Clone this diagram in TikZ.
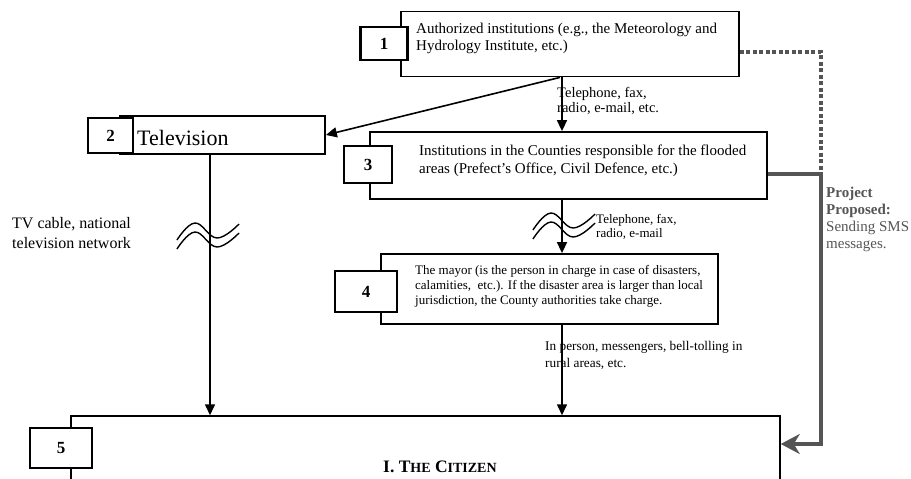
\documentclass[tikz,border=0pt]{standalone}
\usepackage{fontspec}
\setmainfont{Liberation Serif}
\usetikzlibrary{arrows.meta}
\definecolor{smsgray}{RGB}{85,85,85}

\begin{document}
\begin{tikzpicture}[x=1pt,y=-1pt,>={Triangle[length=11pt,width=10pt]}]
    \tikzstyle{block}=[draw,line width=1.8pt,inner sep=0pt]
    \tikzstyle{number}=[draw,fill=white,line width=2.4pt,inner sep=0pt,font=\fontsize{17}{17}\selectfont\bfseries]
    \tikzstyle{annot}=[inner sep=0pt,anchor=base west,align=left]
    \tikzstyle{link}=[->,line width=1.6pt]
    \tikzstyle{wave}=[line width=1.4pt]
    \tikzstyle{sms}=[line width=4pt,draw=smsgray]

    \path[use as bounding box,clip] (0,0) rectangle (911,479);

    % Draw the main blocks
    \node[block,minimum width=338,minimum height=65] (b1) at (570,44) {};
    \node[block,minimum width=205,minimum height=38] (b2) at (222.5,135) {};
    \node[block,minimum width=397,minimum height=67] (b3) at (568.5,165.5) {};
    \node[block,minimum width=337,minimum height=70] (b4) at (549.5,289) {};
    \node[block,line width=1.5pt,minimum width=709,minimum height=124] (b5) at (425.5,478) {};

    % Draw the numbered tabs
    \foreach \name/\x/\y/\w/\h in {1/384/43.5/47/33, 2/110.5/135.5/45/35, 3/368/164.5/48/37,
                                    4/366/291.5/62/41, 5/61/448/62/40}
        \node[number,minimum width=\w,minimum height=\h] (n-\name) at (\x,\y) {\name};

    % Texts of the blocks (placed at the baseline of the last line)
    \node[annot,font=\fontsize{15}{17}\selectfont] (t1) at (416,50)
        {Authorized institutions (e.g., the Meteorology and\\Hydrology Institute, etc.)};
    \node[annot,font=\fontsize{22}{22}\selectfont] (t2) at (137,145) {Television};
    \node[annot,font=\fontsize{15}{18}\selectfont] (t3) at (419,173)
        {Institutions in the Counties responsible for the flooded\\areas (Prefect's Office, Civil Defence, etc.)};
    \node[annot,font=\fontsize{13}{15}\selectfont] (t4) at (415,304)
        {The mayor (is the person in charge in case of disasters,\\calamities,\ \ etc.). If the disaster area is larger than local\\jurisdiction, the County authorities take charge.};
    \node[annot,font=\fontsize{17.5}{17.5}\selectfont\bfseries] (t5) at (383,472)
        {I. T{\fontsize{14}{14}\selectfont HE} C{\fontsize{14}{14}\selectfont ITIZEN}};

    % Connect the blocks
    \draw[link] ([xshift=-8]b1.south) -- ([xshift=-8]b1.south |- b3.north);
    \draw[link] ([xshift=-10]b1.south) -- (b2.east);
    \draw[link] ([xshift=-6.5]b3.south) -- ([xshift=-6.5]b3.south |- b4.north);
    \draw[link] ([xshift=12.5]b4.south) -- ([xshift=12.5]b4.south |- b5.north);
    \draw[link] ([xshift=-12.5]b2.south) -- ([xshift=-12.5]b2.south |- b5.north);

    % Proposed SMS channel
    \coordinate (sms) at (821,174);
    \draw[sms,dash pattern=on 4pt off 2.5pt] ([yshift=-8]b1.east) -| (sms);
    \draw[sms,-{Stealth[length=19pt,width=20pt,inset=6pt]},color=smsgray] ([yshift=-8.5]b3.east) -- (sms) |- ([yshift=34]b5.east);

    % Wireless signs on the links
    \foreach \wx/\wy in {208/234, 564/224}
        \foreach \dy in {0,9}
            \draw[wave,shift={(\wx,\wy+\dy)}] plot[smooth,tension=0.7] coordinates {(-31,6) (-13,-11) (9,4) (31,-10)};

    % Annotate the links
    \node[annot,font=\fontsize{14.5}{15}\selectfont] (l12) at (557,112) {Telephone, fax,\\radio, e-mail, etc.};
    \node[annot,font=\fontsize{13}{14}\selectfont] (l34) at (596,237) {Telephone, fax,\\radio, e-mail};
    \node[annot,font=\fontsize{13.3}{17}\selectfont] (l45) at (545,367) {In person, messengers, bell-tolling in\\rural areas, etc.};
    \node[annot,font=\fontsize{16}{20}\selectfont] (ltv) at (12,248) {TV cable, national\\television network};
    \node[annot,font=\fontsize{15}{16.7}\selectfont,text=smsgray] (lsms) at (826,248)
        {\textbf{Project}\\\textbf{Proposed:}\\Sending SMS\\messages.};
\end{tikzpicture}
\end{document}
